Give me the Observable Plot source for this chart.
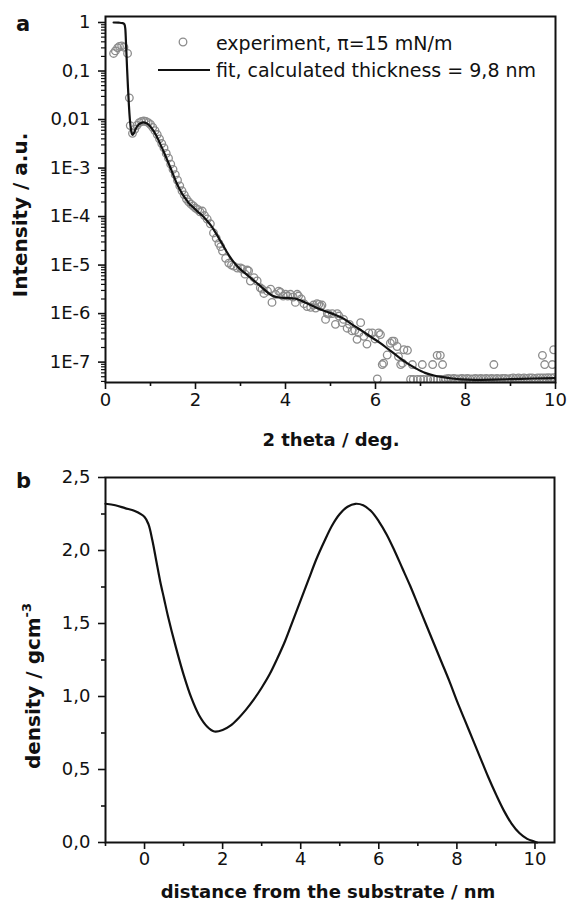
<!DOCTYPE html>
<html><head><meta charset="utf-8">
<script src="https://cdn.jsdelivr.net/npm/d3@7"></script>
<script src="https://cdn.jsdelivr.net/npm/@observablehq/plot@0.6"></script>
<style>
html,body{margin:0;padding:0;background:#fff;}
#chart{width:567px;}
#chart svg{display:block;}
</style></head><body><div id="chart"></div>
<script>
// ---------- Panel a: reflectivity ----------
const experiment = [
[0.18,0.23],[0.22,0.26],[0.27,0.30],[0.31,0.32],[0.36,0.33],[0.41,0.31],[0.49,0.23],[0.53,0.028],[0.55,0.0075],
[0.60,0.0052],[0.65,0.0063],[0.70,0.0076],[0.75,0.0086],[0.80,0.0091],[0.85,0.0093],[0.90,0.0091],[0.95,0.0086],
[1.00,0.0079],[1.05,0.0069],[1.10,0.0059],[1.15,0.0049],[1.20,0.0040],[1.25,0.0032],[1.30,0.0026],[1.35,0.0020],
[1.40,0.0016],[1.45,0.0012],[1.50,9.4e-4],[1.55,7.3e-4],[1.60,5.6e-4],[1.65,4.3e-4],[1.70,3.4e-4],[1.75,2.8e-4],
[1.80,2.3e-4],[1.85,2.0e-4],[1.90,1.8e-4],[1.95,1.65e-4],[2.00,1.5e-4],[2.05,1.4e-4],[2.10,1.25e-4],[2.15,1.3e-4],
[2.20,1.05e-4],[2.26,8.9e-5],[2.33,7.1e-5],[2.40,4.6e-5],[2.46,3.6e-5],[2.52,2.8e-5],[2.56,2.4e-5],[2.60,1.95e-5],
[2.67,1.38e-5],[2.74,1.1e-5],[2.80,1.0e-5],[2.85,9.5e-6],[2.93,8.7e-6],[3.00,8.7e-6],[3.04,8.3e-6],[3.10,6.5e-6],
[3.15,7.9e-6],[3.18,7.6e-6],[3.22,4.7e-6],[3.30,5.5e-6],[3.37,4.7e-6],[3.44,3.4e-6],[3.48,3.2e-6],[3.52,2.6e-6],
[3.60,2.9e-6],[3.67,3.2e-6],[3.70,1.7e-6],[3.78,2.5e-6],[3.85,2.9e-6],[3.89,2.75e-6],[3.95,2.3e-6],[4.00,2.5e-6],
[4.05,2.3e-6],[4.11,2.5e-6],[4.17,2.2e-6],[4.22,1.7e-6],[4.26,2.5e-6],[4.29,2.3e-6],[4.35,2.0e-6],[4.41,1.6e-6],
[4.48,1.4e-6],[4.56,1.35e-6],[4.62,1.5e-6],[4.67,1.3e-6],[4.70,1.6e-6],[4.74,1.55e-6],[4.78,1.4e-6],[4.81,1.5e-6],
[4.89,7.6e-7],[4.93,1.0e-6],[4.96,9.8e-7],[5.04,1.0e-6],[5.11,6.0e-7],[5.15,1.0e-6],[5.19,8.9e-7],[5.26,6.5e-7],
[5.29,7.6e-7],[5.37,5.0e-7],[5.42,6.0e-7],[5.48,4.4e-7],[5.54,4.5e-7],[5.59,2.95e-7],[5.63,4.0e-7],[5.67,6.5e-7],
[5.74,3.4e-7],[5.81,2.35e-7],[5.85,4.0e-7],[5.93,4.0e-7],[5.99,3.0e-7],[6.04,4.5e-8],[6.07,4.0e-7],[6.11,3.7e-7],
[6.15,8.9e-8],[6.18,9.5e-8],[6.26,1.4e-7],[6.33,2.45e-7],[6.37,2.7e-7],[6.41,2.7e-7],[6.48,2.1e-7],[6.51,1.3e-7],
[6.56,8.9e-8],[6.60,9.5e-8],[6.63,1.8e-7],[6.71,1.75e-7],[6.78,4.4e-8],[6.82,8.9e-8],[6.84,4.4e-8],[6.93,4.4e-8],
[7.00,4.4e-8],[7.04,8.9e-8],[7.07,4.4e-8],[7.16,4.4e-8],[7.22,4.4e-8],[7.27,8.9e-8],[7.29,4.4e-8],[7.37,1.38e-7],
[7.38,4.4e-8],[7.44,1.38e-7],[7.45,4.4e-8],[7.49,8.9e-8],[7.51,4.4e-8],
[7.56,4.5e-8],[7.62,4.6e-8],[7.68,4.5e-8],[7.74,4.6e-8],[7.80,4.5e-8],[7.86,4.5e-8],[7.92,4.6e-8],[7.98,4.5e-8],
[8.04,4.6e-8],[8.10,4.5e-8],[8.16,4.5e-8],[8.22,4.6e-8],[8.28,4.5e-8],[8.34,4.6e-8],[8.40,4.5e-8],[8.46,4.6e-8],
[8.52,4.5e-8],[8.58,4.6e-8],[8.63,8.9e-8],[8.64,4.5e-8],[8.70,4.6e-8],[8.76,4.5e-8],[8.82,4.6e-8],[8.88,4.6e-8],
[8.94,4.5e-8],[9.00,4.6e-8],[9.06,4.7e-8],[9.12,4.6e-8],[9.18,4.7e-8],[9.24,4.6e-8],[9.30,4.7e-8],[9.36,4.6e-8],
[9.42,4.7e-8],[9.48,4.7e-8],[9.54,4.6e-8],[9.60,4.7e-8],[9.66,4.7e-8],[9.71,1.38e-7],[9.72,4.7e-8],[9.76,8.9e-8],
[9.78,4.7e-8],[9.84,4.8e-8],[9.90,4.7e-8],[9.93,8.9e-8],[9.96,1.8e-7],[9.96,4.8e-8]
];
const fit = [
[0.18,1.0],[0.30,0.99],[0.38,0.97],[0.42,0.92],[0.44,0.75],[0.46,0.3],[0.48,0.11],[0.50,0.045],[0.52,0.02],
[0.54,0.0105],[0.56,0.0068],[0.58,0.0053],[0.60,0.0048],[0.63,0.0052],[0.67,0.0064],[0.72,0.0076],[0.78,0.0084],
[0.84,0.0087],[0.90,0.0085],[0.96,0.0078],[1.03,0.0066],[1.10,0.0052],[1.17,0.0039],[1.24,0.0028],[1.31,0.0020],
[1.38,0.0014],[1.45,9.8e-4],[1.52,6.7e-4],[1.59,4.7e-4],[1.66,3.5e-4],[1.73,2.7e-4],[1.80,2.2e-4],[1.87,1.8e-4],
[1.95,1.55e-4],[2.05,1.26e-4],[2.15,1.05e-4],[2.25,8.3e-5],[2.35,6.4e-5],[2.45,4.6e-5],[2.55,3.2e-5],[2.65,2.2e-5],
[2.75,1.55e-5],[2.85,1.15e-5],[2.95,9.0e-6],[3.10,6.8e-6],[3.25,5.2e-6],[3.40,4.0e-6],[3.55,3.0e-6],[3.70,2.35e-6],
[3.85,2.15e-6],[4.00,2.1e-6],[4.20,2.05e-6],[4.35,1.85e-6],[4.50,1.6e-6],[4.70,1.3e-6],[4.90,1.1e-6],[5.10,9.5e-7],
[5.30,7.8e-7],[5.50,5.8e-7],[5.70,4.4e-7],[5.90,3.3e-7],[6.10,2.5e-7],[6.30,1.8e-7],[6.50,1.3e-7],[6.70,9.5e-8],
[6.90,7.4e-8],[7.10,6.0e-8],[7.30,5.3e-8],[7.50,4.9e-8],[7.70,4.6e-8],[7.90,4.4e-8],[8.20,4.3e-8],[8.60,4.35e-8],
[9.00,4.45e-8],[9.50,4.6e-8],[10.0,4.7e-8]
];
const xTicksA = [0, 2, 4, 6, 8, 10];
const xMinorA = [1, 3, 5, 7, 9];
const yTicksA = [1e-7, 1e-6, 1e-5, 1e-4, 1e-3, 0.01, 0.1, 1];
const yTickLabelsA = ["1E-7", "1E-6", "1E-5", "1E-4", "1E-3", "0,01", "0,1", "1"];
const legendLabels = ["experiment, \u03c0=15 mN/m", "fit, calculated thickness = 9,8 nm"];

// ---------- Panel b: density profile ----------
const density = [
[-1.0,2.32],[-0.75,2.31],[-0.5,2.29],[-0.25,2.27],[0.0,2.23],[0.1,2.18],[0.2,2.07],[0.3,1.93],[0.4,1.79],
[0.5,1.67],[0.6,1.55],[0.8,1.34],[1.0,1.15],[1.2,0.99],[1.4,0.87],[1.6,0.795],[1.79,0.76],[2.0,0.77],
[2.2,0.80],[2.4,0.85],[2.6,0.91],[2.8,0.98],[3.0,1.06],[3.2,1.15],[3.4,1.26],[3.6,1.38],[3.8,1.52],[4.0,1.66],
[4.2,1.80],[4.4,1.94],[4.6,2.06],[4.8,2.17],[5.0,2.25],[5.2,2.30],[5.4,2.32],[5.6,2.31],[5.8,2.27],[6.0,2.20],
[6.2,2.11],[6.4,2.00],[6.6,1.88],[6.8,1.76],[7.0,1.63],[7.2,1.50],[7.4,1.37],[7.6,1.24],[7.8,1.11],[8.0,0.97],
[8.2,0.84],[8.4,0.71],[8.6,0.58],[8.8,0.45],[9.0,0.33],[9.2,0.22],[9.4,0.13],[9.6,0.065],[9.8,0.025],[10.0,0.005],[10.05,0.0]
];
const xTicksB = [0, 2, 4, 6, 8, 10];
const xMinorB = [-1, 1, 3, 5, 7, 9];
const yTicksB = [0, 0.5, 1.0, 1.5, 2.0, 2.5];
const yTickLabelsB = ["0,0", "0,5", "1,0", "1,5", "2,0", "2,5"];
const yMinorB = [0.25, 0.75, 1.25, 1.75, 2.25];

const FONT = "'DejaVu Sans', sans-serif";
const INK = "#111";
const W = 567;

const yDomainA = [3.8e-8, 1.33];
const isDecade = v => Math.abs(Math.log10(v) - Math.round(Math.log10(v))) < 1e-6;
const yMinorA = d3.scaleLog().domain(yDomainA).ticks().filter(v => !isDecade(v));
const labelA = d => yTickLabelsA[yTicksA.findIndex(t => Math.abs(Math.log10(t) - Math.log10(d)) < 1e-6)];
const labelB = d => yTickLabelsB[yTicksB.findIndex(t => Math.abs(t - d) < 1e-9)];

const baseStyle = {fontFamily: FONT, fontSize: "18px", color: INK, background: "#fff", overflow: "visible"};

const svgA = Plot.plot({
  width: W, height: 460,
  marginLeft: 105, marginRight: 12, marginTop: 16, marginBottom: 78,
  style: baseStyle,
  x: {domain: [0, 10]},
  y: {type: "log", domain: yDomainA},
  marks: [
    Plot.dot(experiment, {x: d => d[0], y: d => d[1], r: 3.8, stroke: "#8c8c8c", strokeWidth: 1.3, fill: "none", clip: true}),
    Plot.line(fit, {x: d => d[0], y: d => d[1], stroke: INK, strokeWidth: 2.2, curve: "monotone-x", clip: true}),
    Plot.axisX(xTicksA, {tickSize: 7, tickPadding: 4, strokeWidth: 1.6, fontSize: 18, label: null, tickFormat: d => String(d)}),
    Plot.axisX(xMinorA, {tickSize: 4, strokeWidth: 1.6, label: null, tickFormat: () => ""}),
    Plot.axisY(yTicksA, {tickSize: 7, tickPadding: 8, strokeWidth: 1.6, fontSize: 18, label: null, tickFormat: labelA}),
    Plot.axisY(yMinorA, {tickSize: 4, strokeWidth: 1.2, label: null, tickFormat: () => ""}),
    Plot.frame({stroke: INK, strokeWidth: 2})
  ]
});

const svgB = Plot.plot({
  width: W, height: 444,
  marginLeft: 105, marginRight: 13, marginTop: 17, marginBottom: 62,
  style: baseStyle,
  x: {domain: [-1, 10.5]},
  y: {domain: [0, 2.5]},
  marks: [
    Plot.line(density, {x: d => d[0], y: d => d[1], stroke: INK, strokeWidth: 2.2, curve: "catmull-rom"}),
    Plot.axisX(xTicksB, {tickSize: 7, tickPadding: 3, strokeWidth: 1.6, fontSize: 18, label: null, tickFormat: d => String(d)}),
    Plot.axisX(xMinorB, {tickSize: 4, strokeWidth: 1.6, label: null, tickFormat: () => ""}),
    Plot.axisY(yTicksB, {tickSize: 7, tickPadding: 8, strokeWidth: 1.6, fontSize: 18, label: null, tickFormat: labelB}),
    Plot.axisY(yMinorB, {tickSize: 4, strokeWidth: 1.6, label: null, tickFormat: () => ""}),
    Plot.frame({stroke: INK, strokeWidth: 2})
  ]
});

// ---------- Titles, panel letters, legend ----------
const sa = d3.select(svgA);
sa.append("text").attr("x", 16).attr("y", 31).attr("text-anchor", "start").attr("font-family", FONT)
  .attr("font-weight", "bold").attr("font-size", 21).attr("fill", INK).text("a");
sa.append("text").attr("x", 331).attr("y", 446).attr("text-anchor", "middle").attr("font-family", FONT)
  .attr("font-weight", "bold").attr("font-size", 18).attr("fill", INK).text("2 theta / deg.");
sa.append("text").attr("transform", "translate(27,215) rotate(-90)").attr("text-anchor", "middle")
  .attr("font-family", FONT).attr("font-weight", "bold").attr("font-size", 20).attr("fill", INK)
  .text("Intensity / a.u.");
const lg = sa.append("g").attr("font-family", FONT).attr("font-size", 19).attr("fill", INK)
  .attr("text-anchor", "start");
lg.append("circle").attr("cx", 183).attr("cy", 42).attr("r", 3.8).attr("fill", "none")
  .attr("stroke", "#8c8c8c").attr("stroke-width", 1.3);
lg.append("text").attr("x", 216).attr("y", 50).attr("text-anchor", "start").text(legendLabels[0]);
lg.append("line").attr("x1", 158).attr("x2", 210).attr("y1", 70).attr("y2", 70)
  .attr("stroke", INK).attr("stroke-width", 2.2);
lg.append("text").attr("x", 216).attr("y", 77).attr("text-anchor", "start").text(legendLabels[1]);

const sb = d3.select(svgB);
sb.append("text").attr("x", 16).attr("y", 28).attr("text-anchor", "start").attr("font-family", FONT)
  .attr("font-weight", "bold").attr("font-size", 21).attr("fill", INK).text("b");
sb.append("text").attr("x", 328).attr("y", 438).attr("text-anchor", "middle").attr("font-family", FONT)
  .attr("font-weight", "bold").attr("font-size", 18).attr("fill", INK).text("distance from the substrate / nm");
const yt = sb.append("text").attr("transform", "translate(40,226) rotate(-90)").attr("text-anchor", "middle")
  .attr("font-family", FONT).attr("font-weight", "bold").attr("font-size", 20).attr("fill", INK);
yt.append("tspan").text("density / gcm");
yt.append("tspan").attr("dy", -9).attr("font-size", 13).text("-3");

const root = document.getElementById("chart");
root.appendChild(svgA);
root.appendChild(svgB);
</script></body></html>
